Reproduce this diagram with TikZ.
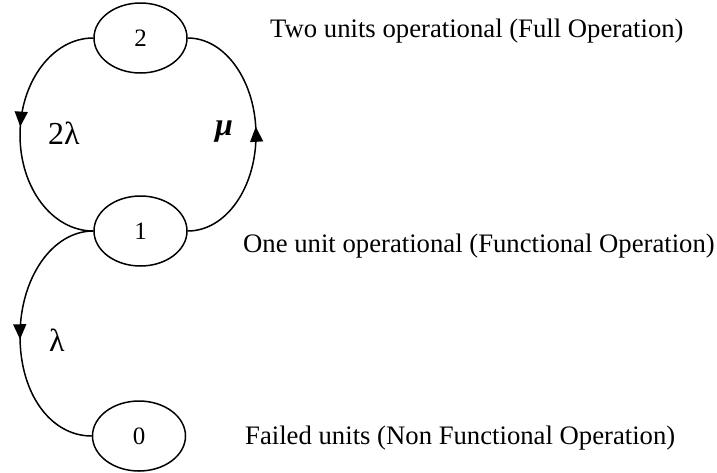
\documentclass[tikz,border=0pt]{standalone}
\usepackage{fontspec}
\setmainfont{Liberation Serif}
\usetikzlibrary{shapes.geometric,arrows.meta,decorations.markings}
\begin{document}
\begin{tikzpicture}[x=1pt,y=-1pt,
  state/.style={draw,ellipse,line width=1.5pt,minimum width=93pt,minimum height=70pt,inner sep=0pt,font=\fontsize{25}{30}\selectfont},
  desc/.style={anchor=base west,inner sep=0pt,font=\fontsize{26.7}{32}\selectfont},
  lab/.style={inner sep=0pt,font=\fontsize{32}{38}\selectfont},
  conn/.style={line width=1.5pt},
  midarrow/.style={postaction={decorate,decoration={markings,mark=at position #1 with {\arrow{Triangle[width=13pt,length=15pt]}}}}}
]
\useasboundingbox (0,0) rectangle (717,472);
\node[state] (n2) at (140.5,38) {2};
\node[state] (n1) at (140.5,231) {1};
\node[state] (n0) at (139,436) {0};
\coordinate (cl) at (20,135);
\coordinate (cr) at (256,135);
\coordinate (cb) at (20,336);
\draw[conn,midarrow=0.47] (n2.west) .. controls +(-41,0) and +(0,-53) .. (cl) .. controls +(0,53) and +(-41,0) .. (n1.west);
\draw[conn,midarrow=0.53] (n1.east) .. controls +(38,0) and +(0,53) .. (cr) .. controls +(0,-53) and +(38,0) .. (n2.east);
\draw[conn,midarrow=0.52] (n1.west) .. controls +(-41,0) and +(0,-58) .. (cb) .. controls +(0,58) and +(-41,0) .. (n0.west);
\node[lab] (l2) at (64,133) {2λ};
\node[lab] (lm) at (224,132) {\textbf{\textit{μ}}};
\node[lab] (l1) at (57,340) {λ};
\node[desc] (t2) at (270,37) {Two units operational (Full Operation)};
\node[desc] (t1) at (243,252) {One unit operational (Functional Operation)};
\node[desc] (t0) at (245,444) {Failed units (Non Functional Operation)};
\end{tikzpicture}
\end{document}
